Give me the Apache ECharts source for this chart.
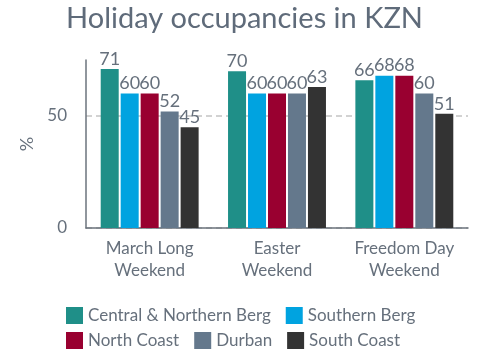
<!DOCTYPE html>
<html>
<head>
<meta charset="utf-8">
<script src="https://cdn.jsdelivr.net/npm/echarts@6/dist/echarts.min.js"></script>
<style>html,body{margin:0;padding:0;background:#fff}#c{width:489px;height:356px}</style>
</head>
<body>
<div id="c"></div>
<script>
const categories = ['March Long\nWeekend', 'Easter\nWeekend', 'Freedom Day\nWeekend'];
const seriesNames = ['Central & Northern Berg', 'Southern Berg', 'North Coast', 'Durban', 'South Coast'];
const centralNorthernBerg = [71, 70, 66];
const southernBerg = [60, 60, 68];
const northCoast = [60, 60, 68];
const durban = [52, 60, 60];
const southCoast = [45, 63, 51];
const colors = ['#1f8f88', '#00a3e0', '#990030', '#64788c', '#333333'];
const values = [centralNorthernBerg, southernBerg, northCoast, durban, southCoast];
const txt = '#66707c';
const font = 'Lato';
const chart = echarts.init(document.getElementById('c'));
chart.setOption({
  animation: false,
  textStyle: {fontFamily: font},
  title: {text: 'Holiday occupancies in KZN', left: 'center', top: -1,
    textStyle: {fontFamily: font, fontSize: 29, fontWeight: 'normal', color: '#5f6b7a'}},
  legend: [
    {data: seriesNames.slice(0, 2), left: 61, top: 302, itemWidth: 17, itemHeight: 17, itemGap: 15,
      icon: 'rect', textStyle: {fontFamily: font, fontSize: 17, color: txt}},
    {data: seriesNames.slice(2), left: 61, top: 327, itemWidth: 17, itemHeight: 17, itemGap: 15,
      icon: 'rect', textStyle: {fontFamily: font, fontSize: 17, color: txt}}
  ],
  grid: {left: 86, right: 21, top: 60, bottom: 128, containLabel: false},
  xAxis: {type: 'category', data: categories,
    axisLine: {lineStyle: {color: '#6b737c', width: 1.5}},
    axisTick: {show: false},
    axisLabel: {interval: 0, hideOverlap: false, fontFamily: font, fontSize: 17, color: txt, lineHeight: 22, margin: 10}},
  yAxis: {type: 'value', min: 0, max: 75, interval: 50,
    name: '%', nameLocation: 'middle', nameGap: 50, nameRotate: 90,
    nameTextStyle: {fontFamily: font, fontSize: 18, color: txt},
    axisLine: {show: true, lineStyle: {color: '#6b737c', width: 1.5}},
    axisTick: {show: false},
    axisLabel: {fontFamily: font, fontSize: 17, color: txt, margin: 19, showMaxLabel: false,
      formatter: v => (v === 75 ? '' : v)},
    splitLine: {show: true, showMaxLine: false, lineStyle: {color: '#c4c4c4', type: [6, 4], width: 1.5}}},
  series: seriesNames.map((n, i) => ({
    name: n, type: 'bar', data: values[i], barWidth: 18, barGap: '11%',
    itemStyle: {color: colors[i]},
    label: {show: true, position: 'top', distance: 1, fontFamily: font, fontSize: 18, color: txt}
  }))
});
</script>
</body>
</html>
